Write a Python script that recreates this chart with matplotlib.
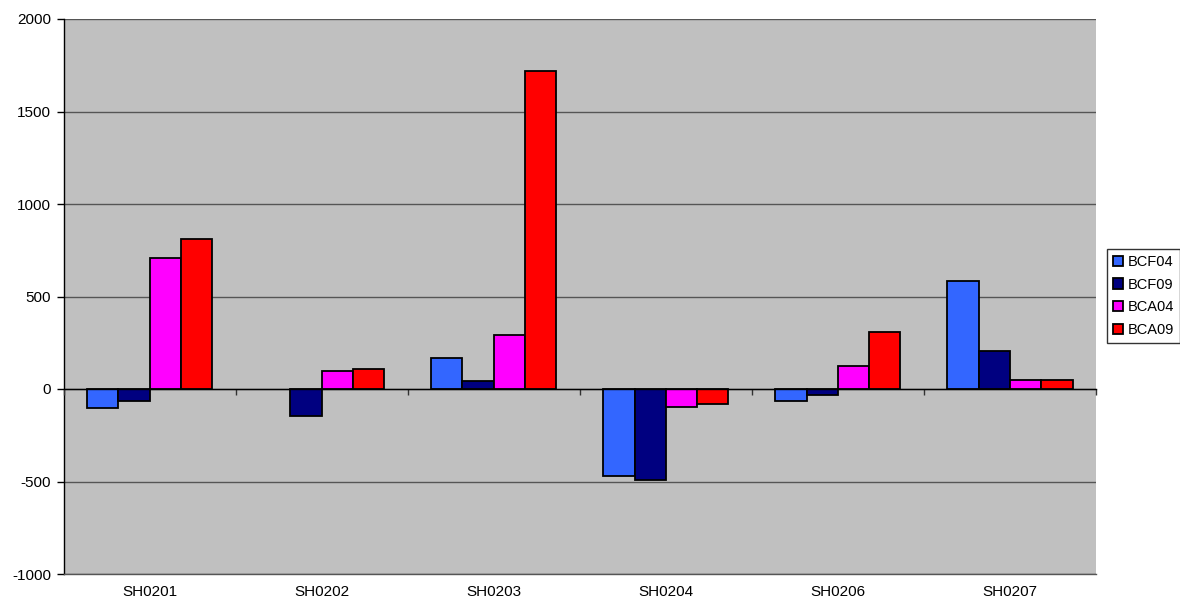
import matplotlib
matplotlib.use("Agg")
import matplotlib.pyplot as plt
import numpy as np

plt.rcParams['font.family'] = ['Liberation Sans', 'DejaVu Sans']

categories = ["SH0201", "SH0202", "SH0203", "SH0204", "SH0206", "SH0207"]
series_names = ["BCF04", "BCF09", "BCA04", "BCA09"]
bcf04 = [-105, np.nan, 167, -468, -63, 584]
bcf09 = [-65, -146, 44, -494, -31, 207]
bca04 = [708, 100, 292, -99, 123, 47]
bca09 = [810, 108, 1717, -81, 306, 47]
colors = ["#3366FF", "#000080", "#FF00FF", "#FF0000"]
y_ticks = [-1000, -500, 0, 500, 1000, 1500, 2000]

W, H = 1180, 601
fig = plt.figure(figsize=(W / 100, H / 100), dpi=100)
fig.patch.set_facecolor("white")
ax = fig.add_axes([63.5 / W, (H - 574) / H, (1096 - 63.5) / W, (574 - 19) / H])
ax.set_facecolor("#C0C0C0")

n = len(series_names)
gap = 1.5
bw = 1.0 / (n + gap)
x = np.arange(len(categories))
for i, (vals, col) in enumerate(zip([bcf04, bcf09, bca04, bca09], colors)):
    offs = (i - (n - 1) / 2) * bw
    ax.bar(x + offs, vals, width=bw, color=col, edgecolor="black",
           linewidth=1.3, label=series_names[i], zorder=3)

ax.set_xlim(-0.5, len(categories) - 0.5)
ax.set_ylim(-1000, 2000)
ax.set_yticks(y_ticks)
ax.set_yticklabels([str(v) for v in y_ticks])
ax.yaxis.grid(True, color="#555555", linewidth=1.0, zorder=1)
ax.set_axisbelow(True)

ax.set_xticks(x)
ax.set_xticklabels(categories)
ax.tick_params(axis="x", length=0, pad=8, labelsize=11)
ax.tick_params(axis="y", length=5, width=1, direction="out", pad=4, labelsize=11)

for s in ["top", "right"]:
    ax.spines[s].set_visible(False)
ax.spines["bottom"].set_color("#555555")
ax.spines["bottom"].set_linewidth(1.0)
ax.spines["left"].set_color("black")
ax.spines["left"].set_linewidth(1.0)

# category axis crossing at zero, with tick marks at the category boundaries
zero_frac = (0 - (-1000)) / 3000
sec = ax.secondary_xaxis(zero_frac)
sec.set_xticks(np.arange(-0.5, len(categories) + 0.5, 1.0))
sec.set_xticklabels([])
sec.tick_params(axis="x", length=4, width=1, direction="out", color="#333333")
sec.spines["bottom"].set_color("black")
sec.spines["bottom"].set_linewidth(1.0)
sec.set_zorder(4)

leg = fig.legend(loc="center left", bbox_to_anchor=(1107 / W, (H - 296) / H),
                 frameon=True, fancybox=False, edgecolor="black",
                 fontsize=10.5, handlelength=0.7, handleheight=0.7,
                 handletextpad=0.3, borderpad=0.4, labelspacing=0.6,
                 borderaxespad=0)
leg.get_frame().set_linewidth(1.0)

fig.savefig("out.png", dpi=100, facecolor="white")
